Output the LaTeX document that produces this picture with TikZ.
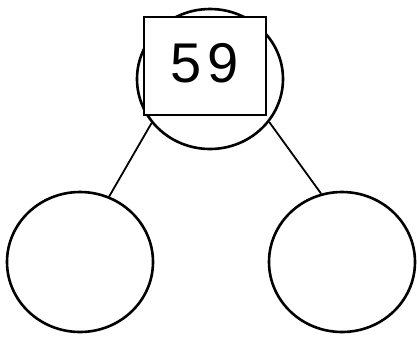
\documentclass[tikz,border=0pt]{standalone}
\usepackage{fontspec}
\setmainfont{Liberation Sans}
\usetikzlibrary{shapes.geometric}
\begin{document}
\begin{tikzpicture}[x=1pt,y=-1pt,
  bubble/.style={ellipse,draw,line width=2.6pt,inner sep=0pt,minimum width=146pt,minimum height=140pt},
  numbox/.style={draw,fill=white,line width=1.8pt,inner sep=0pt,minimum width=122pt,minimum height=98pt},
  link/.style={line width=1.8pt}]
\useasboundingbox (0,0) rectangle (417,338);
\node[bubble] (top) at (210,79) {};
\node[bubble] (left) at (80,262) {};
\node[bubble] (right) at (342,262) {};
\draw[link] (top.217) -- (left.66);
\draw[link] (top.324) -- (right.107);
\node[numbox] (box) at (205,66) {};
\node[font=\fontsize{56}{60}\selectfont] (num) at (205,63) {5\hspace{6pt}9};
\end{tikzpicture}
\end{document}
